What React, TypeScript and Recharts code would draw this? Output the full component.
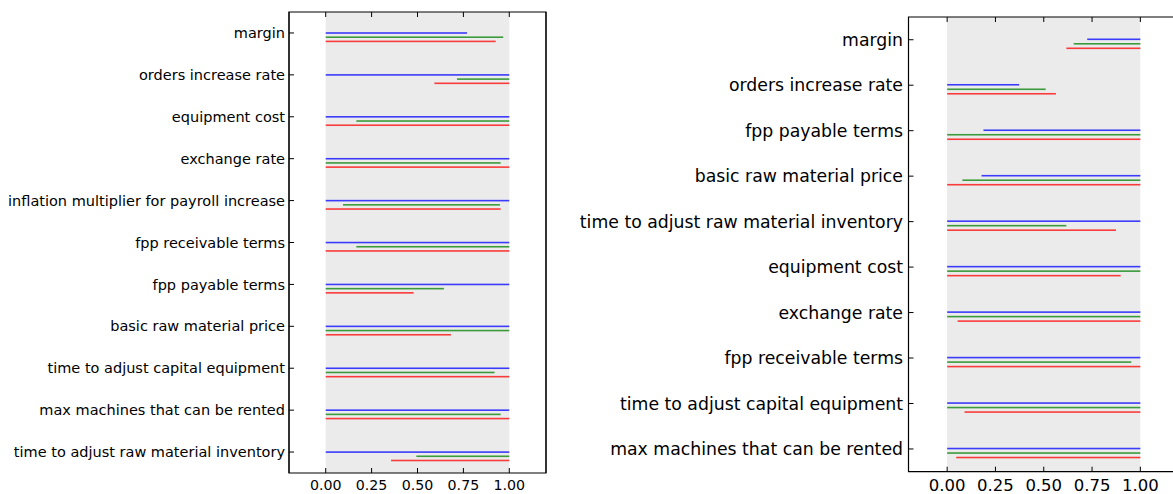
import React from 'react';
import { BarChart, Bar, XAxis, YAxis, ReferenceArea, ReferenceLine } from 'recharts';

// left panel: parameter names and [low, high] ranges per run
const leftLabels = [
  'margin',
  'orders increase rate',
  'equipment cost',
  'exchange rate',
  'inflation multiplier for payroll increase',
  'fpp receivable terms',
  'fpp payable terms',
  'basic raw material price',
  'time to adjust capital equipment',
  'max machines that can be rented',
  'time to adjust raw material inventory',
];
const leftBlue = [
  [0, 0.77], [0, 1], [0, 1], [0, 1], [0, 1], [0, 1],
  [0, 1], [0, 1], [0, 1], [0, 1], [0, 1],
];
const leftGreen = [
  [0, 0.967], [0.715, 1], [0.167, 1], [0, 0.953], [0.094, 0.949], [0.167, 1],
  [0, 0.644], [0, 1], [0, 0.92], [0, 0.953], [0.494, 1],
];
const leftRed = [
  [0, 0.926], [0.592, 1], [0, 1], [0, 1], [0, 0.953], [0, 1],
  [0, 0.479], [0, 0.682], [0, 1], [0, 1], [0.356, 1],
];

// right panel
const rightLabels = [
  'margin',
  'orders increase rate',
  'fpp payable terms',
  'basic raw material price',
  'time to adjust raw material inventory',
  'equipment cost',
  'exchange rate',
  'fpp receivable terms',
  'time to adjust capital equipment',
  'max machines that can be rented',
];
const rightBlue = [
  [0.725, 1], [0, 0.373], [0.188, 1], [0.178, 1], [0, 1],
  [0, 1], [0, 1], [0, 1], [0, 1], [0, 1],
];
const rightGreen = [
  [0.655, 1], [0, 0.51], [0, 1], [0.079, 1], [0, 0.617],
  [0, 1], [0, 1], [0, 0.953], [0, 1], [0, 1],
];
const rightRed = [
  [0.617, 1], [0, 0.563], [0, 1], [0, 1], [0, 0.874],
  [0, 0.898], [0.054, 1], [0, 1], [0.09, 1], [0.047, 1],
];

const xTicks = [0, 0.25, 0.5, 0.75, 1];
const xDomain = [-0.2, 1.2];

const SERIES = [
  { key: 'blue', color: '#0000ff' },
  { key: 'green', color: '#008000' },
  { key: 'red', color: '#ff0000' },
];

const FONT = '"DejaVu Sans", sans-serif';

// bars are grouped around the band centre; push them down one slot so the
// first series sits on the tick
const makeSegment = (pitch: number) => (props: any) => {
  const { x, y, width, height, fill } = props;
  if (x == null || y == null) return null;
  return (
    <rect
      x={x}
      y={y + pitch}
      width={width}
      height={height}
      fill={fill}
      fillOpacity={0.75}
    />
  );
};

// short inward marks at the top and bottom of a vertical reference line
const inwardTicks = (props: any) => {
  const { x1, y1, x2, y2 } = props;
  if (x1 == null || y1 == null) return null;
  const top = Math.min(y1, y2);
  const bottom = Math.max(y1, y2);
  return (
    <g>
      <line x1={x1} x2={x2} y1={top} y2={top + 5} stroke="#000" />
      <line x1={x1} x2={x2} y1={bottom - 5} y2={bottom} stroke="#000" />
    </g>
  );
};

type PanelProps = {
  labels: string[];
  blue: number[][];
  green: number[][];
  red: number[][];
  left: number;
  top: number;
  width: number;
  height: number;
  yAxisWidth: number;
  rightWidth: number;
  rightTick: number;
  xAxisHeight: number;
  labelSize: number;
  tickFont: number;
  pitch: number;
  labelGap: number;
  tickGap: number;
};

const RangePanel = (p: PanelProps) => {
  const rows = p.labels.map((name, i) => ({
    name,
    blue: p.blue[i],
    green: p.green[i],
    red: p.red[i],
  }));
  const lineH = 1.6;
  const segment = makeSegment(p.pitch);
  return (
    <div style={{ position: 'absolute', left: p.left, top: 0 }}>
      <BarChart
        width={p.width}
        height={p.height}
        data={rows}
        layout="vertical"
        margin={{ top: p.top, right: 0, bottom: 0, left: 0 }}
        barSize={lineH}
        barGap={p.pitch - lineH}
      >
        <XAxis
          xAxisId="main"
          type="number"
          domain={xDomain}
          ticks={xTicks}
          allowDataOverflow
          tickFormatter={(v: number) => v.toFixed(2)}
          height={p.xAxisHeight}
          axisLine={false}
          tickLine={false}
          tickSize={0}
          tickMargin={p.tickGap - 5}
          tick={{ fill: '#000', fontSize: p.tickFont, fontFamily: FONT }}
        />
        <YAxis
          yAxisId="main"
          type="category"
          dataKey="name"
          interval={0}
          width={p.yAxisWidth}
          axisLine={{ stroke: '#000' }}
          tickLine={{ stroke: '#000' }}
          tickSize={-5}
          tickMargin={p.labelGap}
          tick={{ fill: '#000', fontSize: p.labelSize, fontFamily: FONT }}
        />
        <YAxis
          yAxisId="right"
          orientation="right"
          type="category"
          dataKey="name"
          interval={0}
          width={p.rightWidth}
          axisLine={{ stroke: '#000' }}
          tickLine={{ stroke: '#000' }}
          tickSize={-p.rightTick}
          tick={false}
        />
        <ReferenceArea
          xAxisId="main"
          yAxisId="main"
          x1={0}
          x2={1}
          fill="#ebebeb"
          fillOpacity={1}
          stroke="none"
        />
        {SERIES.map((s) => (
          <Bar
            key={s.key}
            xAxisId="main"
            yAxisId="main"
            dataKey={s.key}
            fill={s.color}
            shape={segment}
            isAnimationActive={false}
          />
        ))}
        {xTicks.map((t) => (
          <ReferenceLine
            key={t}
            xAxisId="main"
            yAxisId="main"
            x={t}
            shape={inwardTicks}
          />
        ))}
        {/* plot frame */}
        <ReferenceArea
          xAxisId="main"
          yAxisId="main"
          x1={xDomain[0]}
          x2={xDomain[1]}
          fill="none"
          stroke="#000"
          strokeWidth={1.2}
          ifOverflow="visible"
        />
      </BarChart>
    </div>
  );
};

export default function App() {
  return (
    <div
      style={{
        position: 'absolute',
        left: 0,
        top: 0,
        width: 1173,
        height: 494,
        overflow: 'hidden',
        background: '#fff',
      }}
    >
      <RangePanel
        labels={leftLabels}
        blue={leftBlue}
        green={leftGreen}
        red={leftRed}
        left={0}
        top={12}
        width={560}
        height={494}
        yAxisWidth={289}
        rightWidth={14}
        rightTick={5}
        xAxisHeight={21}
        labelSize={14.5}
        tickFont={14.2}
        pitch={4.2}
        labelGap={9}
        tickGap={12}
      />
      <RangePanel
        labels={rightLabels}
        blue={rightBlue}
        green={rightGreen}
        red={rightRed}
        left={560}
        top={17}
        width={629}
        height={494}
        yAxisWidth={348.5}
        rightWidth={10}
        rightTick={8}
        xAxisHeight={22.3}
        labelSize={17.3}
        tickFont={16.5}
        pitch={4.5}
        labelGap={10.5}
        tickGap={12.6}
      />
    </div>
  );
}
